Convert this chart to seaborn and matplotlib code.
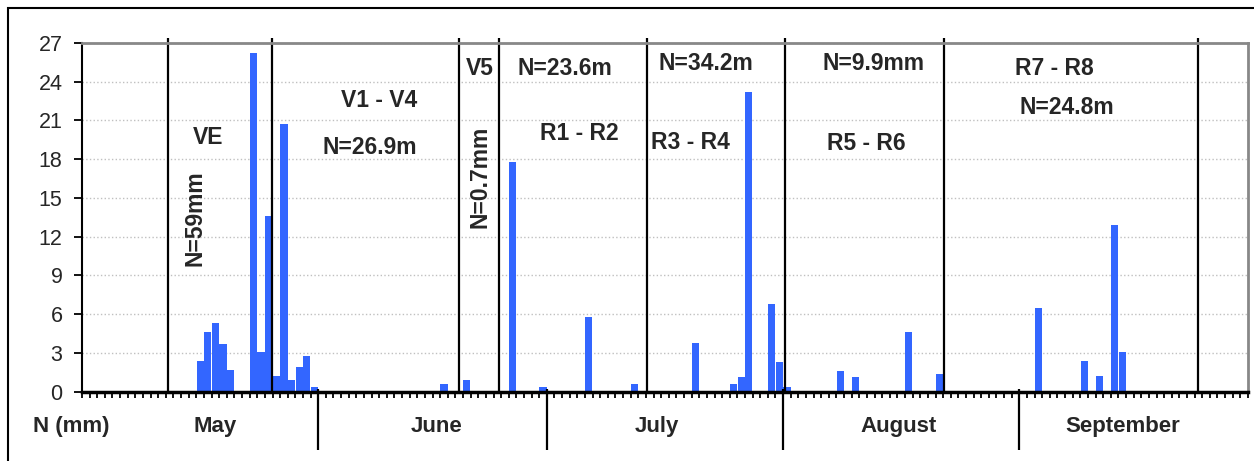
import pandas as pd
import numpy as np
import matplotlib
matplotlib.use("Agg")
import matplotlib.pyplot as plt
import matplotlib.transforms as mtransforms
from matplotlib.patches import Rectangle
import seaborn as sns

# daily rainfall (mm), season starts May 1
rain_dates = ["05-16", "05-17", "05-18", "05-19", "05-20",
              "05-23", "05-24", "05-25", "05-26", "05-27", "05-28", "05-29", "05-30", "05-31",
              "06-17", "06-20", "06-26", "06-30",
              "07-06", "07-12", "07-20", "07-25", "07-26", "07-27", "07-30", "07-31",
              "08-01", "08-08", "08-10", "08-17", "08-21",
              "09-03", "09-09", "09-11", "09-13", "09-14"]
rain_mm = [2.4, 4.6, 5.3, 3.7, 1.7,
           26.2, 3.1, 13.6, 1.2, 20.7, 0.9, 1.9, 2.8, 0.4,
           0.6, 0.9, 17.8, 0.4,
           5.8, 0.6, 3.8, 0.6, 1.1, 23.2, 6.8, 2.3,
           0.4, 1.6, 1.1, 4.6, 1.4,
           6.5, 2.4, 1.2, 12.9, 3.1]

months = ["May", "June", "July", "August", "September"]
month_days = [31, 30, 31, 31, 30]
month_label_pos = [17.0, 46.0, 75.0, 106.6, 136.0]

# growth stage boundaries (day index) and labels
stage_bounds = [10.8, 24.4, 49.0, 54.2, 73.6, 91.7, 112.6, 146.0]
stage_labels = [("VE", 16.1, 19.7, 0), ("N=59mm", 14.3, 13.4, 90),
                ("V1 - V4", 38.5, 22.5, 0), ("N=26.9m", 37.2, 18.9, 0),
                ("V5", 51.7, 25.0, 0), ("N=0.7mm", 51.7, 16.6, 90),
                ("N=23.6m", 62.8, 25.0, 0), ("R1 - R2", 64.7, 20.0, 0),
                ("N=34.2m", 81.4, 25.4, 0), ("R3 - R4", 79.3, 19.3, 0),
                ("N=9.9mm", 103.3, 25.4, 0), ("R5 - R6", 102.4, 19.2, 0),
                ("R7 - R8", 127.1, 25.0, 0), ("N=24.8m", 128.7, 22.0, 0)]

start = pd.Timestamp("2009-05-01")
day = [(pd.Timestamp("2009-" + d) - start).days for d in rain_dates]
df = pd.DataFrame({"day": day, "rain": rain_mm})

sns.set_style("white")
plt.rcParams["font.family"] = ["Liberation Sans", "DejaVu Sans"]

fig = plt.figure(figsize=(12.54, 4.61), dpi=100)
ax = fig.add_axes([0.0654, 0.1503, 0.9298, 0.757])

sns.barplot(data=df, x="day", y="rain", native_scale=True, color="#3366FF",
            saturation=1, width=0.95, errorbar=None, linewidth=0, ax=ax)

ndays = sum(month_days)
ax.set_xlim(-0.5, ndays - 0.5)
ax.set_ylim(0, 27)
ax.set_yticks(np.arange(0, 28, 3))
ax.set_xticks([])
ax.set_xticks(np.arange(-0.5, ndays, 1), minor=True)
ax.set_xlabel("")
ax.set_ylabel("")
ax.tick_params(axis="y", which="major", direction="out", length=6, width=1.3,
               pad=8, labelsize=15.5, left=True, color="black")
ax.tick_params(axis="x", which="minor", direction="out", length=4, width=1.3,
               bottom=True, color="black")
ax.set_axisbelow(True)
ax.yaxis.grid(True, linestyle=":", color="#c0c0c0", linewidth=1)

for side in ["top", "right"]:
    ax.spines[side].set_visible(True)
    ax.spines[side].set_color("#888888")
    ax.spines[side].set_linewidth(2)
ax.spines["left"].set_color("black")
ax.spines["left"].set_linewidth(1.5)
ax.spines["bottom"].set_color("black")
ax.spines["bottom"].set_linewidth(2.5)

trans = mtransforms.blended_transform_factory(ax.transData, ax.transAxes)

# stage separators
ax.vlines(stage_bounds, 0, 1.013, transform=trans, color="black", lw=1.6, clip_on=False)

# month separators and labels below the axis
month_edges = np.cumsum(month_days)[:-1] - 0.5
ax.vlines(month_edges, -0.168, 0.008, transform=trans, color="black", lw=1.6, clip_on=False)
for name, xp in zip(months, month_label_pos):
    ax.text(xp, -0.101, name, transform=trans, ha="center", va="center",
            fontsize=16, fontweight="bold")

for txt, xp, yp, rot in stage_labels:
    ax.text(xp, yp, txt, ha="center", va="center", rotation=rot,
            fontsize=16.5, fontweight="bold")

fig.text(0.0566, 0.0738, "N (mm)", ha="center", va="center", fontsize=16, fontweight="bold")

# outer frame (left and top visible)
fig.patches.append(Rectangle((8 / 1254, -0.5), 2, 0.9826 + 0.5, transform=fig.transFigure,
                             fill=False, edgecolor="black", lw=1.5))

fig.savefig("out.png", dpi=100)
